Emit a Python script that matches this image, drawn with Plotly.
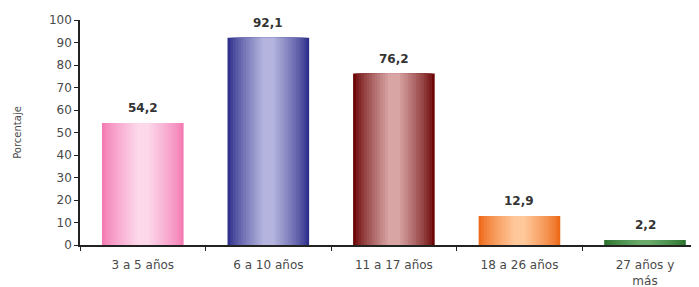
import plotly.graph_objects as go

categories = ["3 a 5 años", "6 a 10 años", "11 a 17 años", "18 a 26 años", "27 años y<br>más"]
values = [54.2, 92.1, 76.2, 12.9, 2.2]
edge_colors = ["#f47bb4", "#2f2f8c", "#6c0606", "#ee6a1a", "#2c742e"]
center_colors = ["#fcd8ea", "#b4b4de", "#d8a4a4", "#ffc89a", "#6aaa6a"]
y_ticks = [0, 10, 20, 30, 40, 50, 60, 70, 80, 90, 100]


def hex2rgb(h):
    h = h.lstrip("#")
    return [int(h[i:i + 2], 16) for i in (0, 2, 4)]


def mix(a, b, t):
    ca, cb = hex2rgb(a), hex2rgb(b)
    return "rgb(%d,%d,%d)" % tuple(round(ca[k] + (cb[k] - ca[k]) * t) for k in range(3))


fig = go.Figure()
N = 14
BW = 0.65
for i in range(N):
    t = i / (N - 1)
    w = BW * (1 - 0.85 * t)
    cols = [mix(e, c, t ** 0.8) for e, c in zip(edge_colors, center_colors)]
    fig.add_trace(go.Bar(
        x=categories, y=values, width=w,
        marker=dict(color=cols, line=dict(width=0)),
        hoverinfo="skip", showlegend=False,
    ))

for c, v in zip(categories, values):
    fig.add_annotation(
        x=c, y=v, text="<b>" + f"{v:.1f}".replace(".", ",") + "</b>",
        showarrow=False, yshift=15,
        font=dict(family="DejaVu Sans", size=12, color="#333333"),
    )

fig.update_layout(
    width=691, height=279,
    margin=dict(l=72, r=0, t=12, b=42),
    paper_bgcolor="white", plot_bgcolor="white",
    barmode="overlay",
    font=dict(family="DejaVu Sans", size=12, color="#4a4a4a"),
    xaxis=dict(
        type="category", range=[-0.5, 4.43], automargin=False,
        showline=True, linecolor="#222222", linewidth=1.5,
        ticks="outside", tickson="boundaries", ticklen=4, tickcolor="#222222",
        ticklabelstandoff=8,
        showgrid=False, tickfont=dict(size=12, color="#4a4a4a"),
    ),
    yaxis=dict(
        range=[0, 100], tickvals=y_ticks, automargin=False,
        showline=True, linecolor="#222222", linewidth=1.5,
        ticks="outside", ticklen=4, tickcolor="#222222",
        showgrid=False, zeroline=False,
        tickfont=dict(size=12, color="#4a4a4a"),
        title=dict(text="Porcentaje", font=dict(size=10, color="#4a4a4a"), standoff=25),
    ),
)

fig.write_html("out.html")
